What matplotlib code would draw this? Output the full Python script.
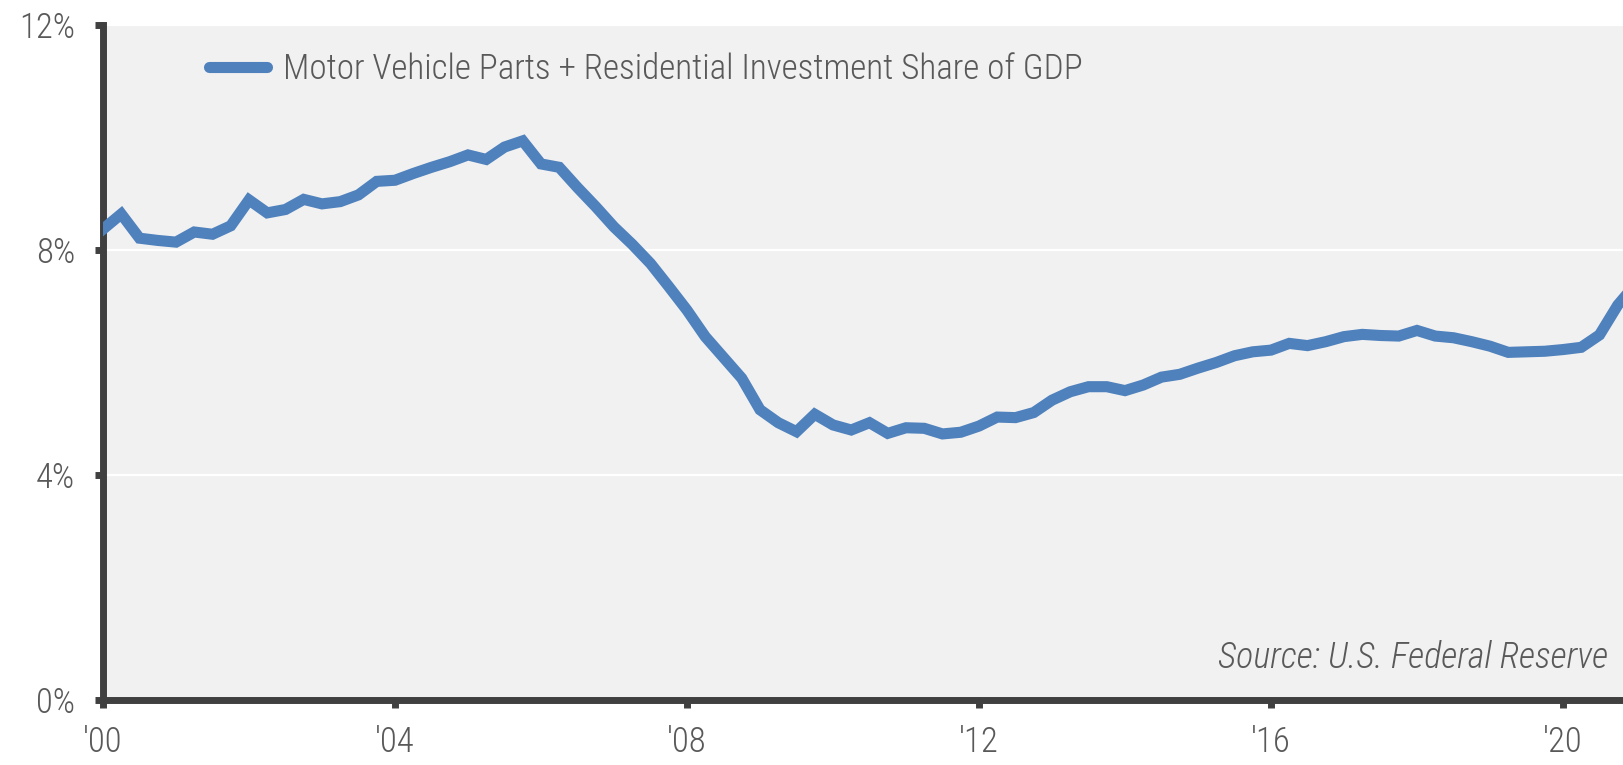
import numpy as np
import matplotlib
matplotlib.use("Agg")
import matplotlib.pyplot as plt
from matplotlib.ticker import FuncFormatter


# Quarterly share of GDP (%), starting 2000 Q1
START_YEAR = 2000
share = [
    8.37, 8.64, 8.21, 8.17, 8.14, 8.32, 8.28, 8.43,
    8.89, 8.66, 8.72, 8.90, 8.82, 8.86, 8.98, 9.22,
    9.24, 9.36, 9.47, 9.57, 9.69, 9.61, 9.83, 9.94,
    9.53, 9.47, 9.11, 8.77, 8.41, 8.10, 7.76, 7.35,
    6.93, 6.46, 6.09, 5.72, 5.16, 4.93, 4.77, 5.08,
    4.89, 4.80, 4.93, 4.74, 4.84, 4.83, 4.73, 4.76,
    4.87, 5.03, 5.02, 5.11, 5.33, 5.48, 5.57, 5.57,
    5.50, 5.60, 5.74, 5.79, 5.90, 6.00, 6.12, 6.19,
    6.22, 6.34, 6.30, 6.37, 6.46, 6.50, 6.48, 6.47,
    6.57, 6.47, 6.44, 6.37, 6.29, 6.18, 6.19, 6.20,
    6.23, 6.27, 6.49, 7.02, 7.40,
]

x_ticks = [2000, 2004, 2008, 2012, 2016, 2020]
x_tick_labels = ["'00", "'04", "'08", "'12", "'16", "'20"]
y_ticks = [0, 4, 8, 12]

SERIES_LABEL = "Motor Vehicle Parts + Residential Investment Share of GDP"
SOURCE = "Source: U.S. Federal Reserve"

LINE_COLOR = "#4f81bd"
AXIS_COLOR = "#404040"
TEXT_COLOR = "#595959"
BG_COLOR = "#f1f1f1"

plt.rcParams["font.family"] = ["Roboto Condensed", "Liberation Sans Narrow", "DejaVu Sans"]
plt.rcParams["font.weight"] = "light"


def main():
    x = START_YEAR + np.arange(len(share)) / 4

    fig = plt.figure(figsize=(16.23, 7.65), dpi=100)
    ax = fig.add_axes([103 / 1623, 1 - 700 / 765, 1 - 103 / 1623, 675 / 765])
    ax.set_facecolor(BG_COLOR)

    ax.plot(x, share, color=LINE_COLOR, lw=8, solid_joinstyle="miter",
            label=SERIES_LABEL, zorder=3)

    ax.set_xlim(2000, 2000 + 1520 / 73)
    ax.set_ylim(0, 12)

    ax.set_yticks(y_ticks)
    ax.yaxis.set_major_formatter(FuncFormatter(lambda v, _: f"{v:.0f}%"))
    ax.set_xticks(x_ticks)
    ax.set_xticklabels(x_tick_labels)

    ax.grid(axis="y", color="white", lw=1.6, zorder=1)
    ax.set_axisbelow(True)

    for side in ["top", "right"]:
        ax.spines[side].set_visible(False)
    for side in ["left", "bottom"]:
        ax.spines[side].set_color(AXIS_COLOR)
        ax.spines[side].set_linewidth(5)

    ax.tick_params(axis="both", direction="out", length=6, width=5,
                   color=AXIS_COLOR, labelcolor=TEXT_COLOR, labelsize=25)
    ax.tick_params(axis="y", pad=14)
    ax.tick_params(axis="x", pad=12)

    leg = ax.legend(loc="upper left", bbox_to_anchor=(0.058, 0.985), frameon=False,
                    fontsize=25.3, handlelength=1.65, handletextpad=0.45, borderpad=0)
    for t in leg.get_texts():
        t.set_color(TEXT_COLOR)
    for h in leg.get_lines():
        h.set_solid_capstyle("round")

    ax.text(0.99, 0.035, SOURCE, transform=ax.transAxes, ha="right", va="bottom",
            fontsize=26, style="italic", color=TEXT_COLOR)

    fig.savefig("out.png", dpi=100, facecolor="white")
    plt.close(fig)


if __name__ == "__main__":
    main()
